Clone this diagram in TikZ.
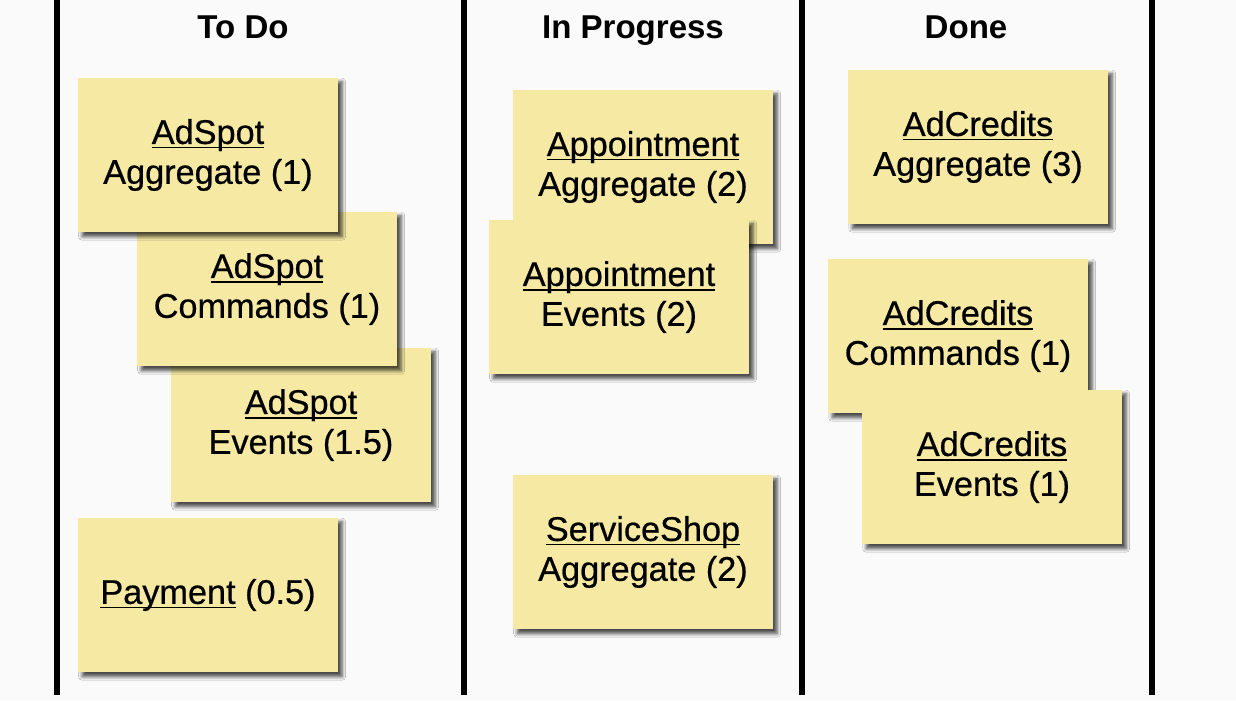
\documentclass[tikz,border=0pt]{standalone}
\usepackage{fontspec}
\setmainfont{Liberation Sans}
\newfontfamily\notefont[FakeBold=0.6]{Liberation Sans}
\usepackage{tikz}
\usetikzlibrary{positioning}
\usetikzlibrary{shadows.blur}
\definecolor{notefill}{HTML}{F5E9A4}
\definecolor{boardbg}{HTML}{FAFAFA}
\newcommand\ulin[1]{\setbox0\hbox{#1}\rlap{\rule[-2.6pt]{\wd0}{0.9pt}}\box0\relax}
\tikzset{sticky/.style={fill=notefill,minimum width=5.2cm,minimum height=3.1cm,
           inner sep=0pt,align=center,
           blur shadow={shadow xshift=2.4pt,shadow yshift=-2.4pt,shadow blur steps=6,
             shadow blur radius=2pt,shadow opacity=70},
           font=\notefont\fontsize{19.5}{22.7}\selectfont},
         colhead/.style={anchor=base,font=\bfseries\fontsize{18.8}{22}\selectfont},
         divider/.style={line width=3.4pt,black}}

\begin{document}
\begin{tikzpicture}[x=0.02cm,y=-0.02cm]
    \fill[boardbg] (0,0) rectangle (1236,700);
    \useasboundingbox (0,0) rectangle (1236,700);

    \foreach \x in {57,464,802,1152} \draw[divider] (\x,0) -- (\x,695);

    \node[colhead] (todo) at (243,38) {To Do}; \node[colhead] (inprog) at
    (633,38) {In Progress}; \node[colhead] (done) at (966,38) {Done};

    % to do
    \node[sticky] (spotev) at (301,425) {\ulin{AdSpot}\\Events (1.5)};
    \node[sticky] (spotcmd) at (267,289) {\ulin{AdSpot}\\Commands (1)};
    \node[sticky] (spotagg) at (208,155) {\ulin{AdSpot}\\Aggregate (1)};
    \node[sticky] (pay) at (208,595) {\ulin{Payment} (0.5)};

    % in progress
    \node[sticky] (apptagg) at (643,167) {\ulin{Appointment}\\Aggregate (2)};
    \node[sticky] (apptev) at (619,297) {\ulin{Appointment}\\Events (2)};
    \node[sticky] (shopagg) at (643,552) {\ulin{ServiceShop}\\Aggregate (2)};

    % done
    \node[sticky] (credagg) at (978,147) {\ulin{AdCredits}\\Aggregate (3)};
    \node[sticky] (credcmd) at (958,336) {\ulin{AdCredits}\\Commands (1)};
    \node[sticky] (credev) at (992,467) {\ulin{AdCredits}\\Events (1)};

  \end{tikzpicture}
\end{document}
